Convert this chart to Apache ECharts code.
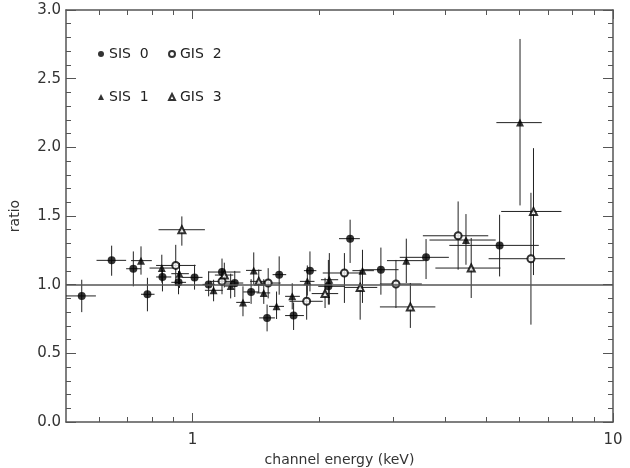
<!DOCTYPE html>
<html>
<head>
<meta charset="utf-8">
<script src="https://cdn.jsdelivr.net/npm/echarts@6/dist/echarts.min.js"></script>
<style>
  html, body { margin: 0; padding: 0; background: #fff; }
  #chartId { width: 630px; height: 468px; }
</style>
</head>
<body>
<div id="chartId"></div>
<script>
// rows: [energy, ratio, energyLo, energyHi, ratioLo, ratioHi]
const sis0 = [
  [0.545, 0.918, 0.50, 0.589, 0.80, 1.036],
  [0.642, 1.177, 0.591, 0.695, 1.065, 1.284],
  [0.723, 1.116, 0.695, 0.754, 0.988, 1.242],
  [0.781, 0.930, 0.754, 0.812, 0.806, 1.05],
  [0.848, 1.056, 0.819, 0.89, 0.951, 1.109],
  [0.926, 1.017, 0.89, 0.965, 0.93, 1.10],
  [1.011, 1.053, 0.946, 1.056, 0.964, 1.145],
  [1.092, 1.002, 1.056, 1.13, 0.915, 1.097],
  [1.175, 1.092, 1.09, 1.30, 0.99, 1.19],
  [1.26, 1.012, 1.20, 1.32, 0.91, 1.10],
  [1.378, 0.947, 1.32, 1.44, 0.86, 1.04],
  [1.504, 0.758, 1.44, 1.57, 0.66, 0.855],
  [1.607, 1.073, 1.55, 1.67, 0.927, 1.206],
  [1.739, 0.775, 1.66, 1.84, 0.67, 0.87],
  [1.902, 1.102, 1.84, 1.97, 0.951, 1.242],
  [2.104, 0.988, 1.99, 2.30, 0.855, 1.18],
  [2.37, 1.335, 2.23, 2.50, 1.158, 1.473],
  [2.805, 1.109, 2.53, 3.09, 0.927, 1.27],
  [3.592, 1.199, 3.11, 4.07, 1.041, 1.332],
  [5.374, 1.286, 4.08, 6.66, 1.06, 1.509]
];
const sis1 = [
  [0.754, 1.175, 0.714, 0.80, 1.073, 1.279],
  [0.845, 1.121, 0.79, 0.906, 1.015, 1.218],
  [0.931, 1.08, 0.89, 0.98, 0.976, 1.158],
  [1.122, 0.959, 1.07, 1.18, 0.879, 1.036],
  [1.232, 0.99, 1.19, 1.28, 0.90, 1.08],
  [1.318, 0.871, 1.27, 1.37, 0.77, 0.988],
  [1.398, 1.104, 1.34, 1.46, 1.00, 1.235],
  [1.477, 0.94, 1.42, 1.53, 0.86, 1.04],
  [1.584, 0.842, 1.52, 1.65, 0.75, 0.95],
  [1.726, 0.915, 1.66, 1.80, 0.82, 1.01],
  [1.875, 1.024, 1.80, 1.95, 0.92, 1.14],
  [2.115, 1.036, 2.02, 2.22, 0.855, 1.23],
  [2.536, 1.102, 2.40, 2.70, 0.867, 1.254],
  [3.224, 1.175, 2.90, 3.55, 1.012, 1.335],
  [4.47, 1.325, 3.66, 5.26, 1.145, 1.514],
  [6.01, 2.18, 5.28, 6.77, 1.577, 2.789]
];
const gis2 = [
  [0.912, 1.14, 0.819, 1.017, 0.99, 1.29],
  [1.175, 1.024, 1.10, 1.26, 0.93, 1.12],
  [1.513, 1.012, 1.42, 1.62, 0.90, 1.12],
  [1.868, 0.879, 1.70, 2.04, 0.745, 1.0],
  [2.297, 1.085, 2.04, 2.53, 0.867, 1.23],
  [3.046, 1.005, 2.79, 3.51, 0.83, 1.18],
  [4.282, 1.356, 3.53, 5.05, 1.109, 1.606],
  [6.38, 1.189, 5.06, 7.69, 0.709, 1.669]
];
const gis3 = [
  [0.943, 1.40, 0.83, 1.07, 1.284, 1.497],
  [1.19, 1.07, 1.13, 1.25, 0.98, 1.16],
  [1.437, 1.024, 1.37, 1.50, 0.94, 1.11],
  [2.066, 0.935, 1.92, 2.22, 0.83, 1.05],
  [2.504, 0.98, 2.30, 2.75, 0.745, 1.109],
  [3.296, 0.838, 2.79, 3.78, 0.685, 1.012],
  [4.6, 1.121, 3.78, 5.4, 0.903, 1.34],
  [6.47, 1.533, 5.42, 7.54, 1.07, 1.994]
];
const xMajorTicks = [1, 10];
const xMinorTicks = [0.6, 0.7, 0.8, 0.9, 2, 3, 4, 5, 6, 7, 8, 9];
const xMin = 0.5;
const xMax = 10;

const FONT = 'DejaVu Sans';
const AXIS_COLOR = '#555';

// error bars
const renderErr = (params, api) => {
  const x = api.value(0);
  const y = api.value(1);
  const a = api.coord([api.value(2), y]);
  const b = api.coord([api.value(3), y]);
  const c = api.coord([x, api.value(4)]);
  const d = api.coord([x, api.value(5)]);
  const style = { stroke: '#222', lineWidth: 1 };
  return {
    type: 'group',
    children: [
      { type: 'line', shape: { x1: a[0], y1: a[1], x2: b[0], y2: b[1] }, style },
      { type: 'line', shape: { x1: c[0], y1: c[1], x2: d[0], y2: d[1] }, style },
    ],
  };
};

const errSeries = (name, data) => ({
  name: name + ' err',
  type: 'custom',
  xAxisIndex: 0,
  yAxisIndex: 0,
  renderItem: renderErr,
  encode: { x: [0, 2, 3], y: [1, 4, 5] },
  data: data,
  silent: true,
  z: 2,
});

const markSeries = (name, data, symbol, size, border) => ({
  name: name,
  type: 'scatter',
  xAxisIndex: 0,
  yAxisIndex: 0,
  symbol: symbol,
  symbolSize: size,
  itemStyle: { color: '#000', borderColor: '#000', borderWidth: border },
  data: data.map(r => [r[0], r[1]]),
  z: 3,
});

const logv = v => Math.log10(v);

// tick-only axes in log10 space
const tickAxis = (pos, values, len, showLabel) => ({
  type: 'value',
  position: pos,
  min: logv(xMin),
  max: logv(xMax),
  axisLine: { show: false, onZero: false },
  splitLine: { show: false },
  axisTick: {
    show: true, inside: true, length: len, customValues: values.map(logv),
    lineStyle: { color: AXIS_COLOR, width: 1 },
  },
  axisLabel: {
    show: showLabel,
    customValues: values.map(logv),
    formatter: v => String(Math.round(Math.pow(10, v))),
    fontFamily: FONT, fontSize: 15, color: '#333', margin: 11,
  },
});

const yAxisCfg = (pos, showLabel) => ({
  type: 'value',
  position: pos,
  min: 0,
  max: 3,
  interval: 0.5,
  axisLine: { show: true, onZero: false, lineStyle: { color: AXIS_COLOR, width: 1.5 } },
  axisTick: { show: true, inside: true, length: 10, lineStyle: { color: AXIS_COLOR } },
  minorTick: { show: true, splitNumber: 5, length: 5, lineStyle: { color: AXIS_COLOR } },
  splitLine: { show: false },
  minorSplitLine: { show: false },
  axisLabel: {
    show: showLabel,
    formatter: v => v.toFixed(1),
    fontFamily: FONT, fontSize: 15, color: '#333', margin: 5,
  },
  name: showLabel ? 'ratio' : '',
  nameLocation: 'middle',
  nameGap: 44,
  nameTextStyle: { fontFamily: FONT, fontSize: 14, color: '#333' },
});

const chart = echarts.init(document.getElementById('chartId'));

const option = {
  animation: false,
  backgroundColor: '#fff',
  grid: { left: 66, right: 17, top: 10, bottom: 46, containLabel: false, outerBoundsMode: 'none' },
  legend: [
    {
      orient: 'vertical', left: 93, top: 42, itemGap: 29,
      itemWidth: 6, itemHeight: 6,
      data: [{ name: 'SIS 0', icon: 'circle' }, { name: 'SIS 1', icon: 'triangle' }],
      formatter: n => n.replace(' ', '  '),
      textStyle: { fontFamily: FONT, fontSize: 14, color: '#222' },
      selectedMode: false,
    },
    {
      orient: 'vertical', left: 163, top: 42, itemGap: 29,
      itemWidth: 6, itemHeight: 6, itemStyle: { borderWidth: 1 },
      data: [{ name: 'GIS 2', icon: 'emptyCircle' }, { name: 'GIS 3', icon: 'emptyTriangle' }],
      formatter: n => n.replace(' ', '  '),
      textStyle: { fontFamily: FONT, fontSize: 14, color: '#222' },
      selectedMode: false,
    },
  ],
  xAxis: [
    {
      type: 'log', logBase: 10, min: xMin, max: xMax, position: 'bottom',
      axisLine: { show: true, onZero: false, lineStyle: { color: AXIS_COLOR, width: 1.5 } },
      axisTick: { show: false }, axisLabel: { show: false }, splitLine: { show: false },
      name: 'channel energy (keV)', nameLocation: 'middle', nameGap: 31,
      nameTextStyle: { fontFamily: FONT, fontSize: 14, color: '#333' },
    },
    tickAxis('bottom', xMajorTicks, 9, true),
    tickAxis('bottom', xMinorTicks, 5, false),
    {
      type: 'log', logBase: 10, min: xMin, max: xMax, position: 'top',
      axisLine: { show: true, onZero: false, lineStyle: { color: AXIS_COLOR, width: 1.5 } },
      axisTick: { show: false }, axisLabel: { show: false }, splitLine: { show: false },
    },
    tickAxis('top', xMajorTicks, 9, false),
    tickAxis('top', xMinorTicks, 5, false),
  ],
  yAxis: [yAxisCfg('left', true), yAxisCfg('right', false)],
  series: [
    errSeries('SIS 0', sis0),
    errSeries('SIS 1', sis1),
    errSeries('GIS 2', gis2),
    errSeries('GIS 3', gis3),
    Object.assign(markSeries('SIS 0', sis0, 'circle', 8, 0), {
      markLine: {
        silent: true, symbol: 'none', label: { show: false },
        lineStyle: { color: '#555', width: 1.5, type: 'solid' },
        data: [{ yAxis: 1 }],
      },
    }),
    markSeries('SIS 1', sis1, 'triangle', 8, 0),
    markSeries('GIS 2', gis2, 'emptyCircle', 7, 1),
    markSeries('GIS 3', gis3, 'emptyTriangle', 7, 1),
  ],
};

chart.setOption(option);
</script>
</body>
</html>
